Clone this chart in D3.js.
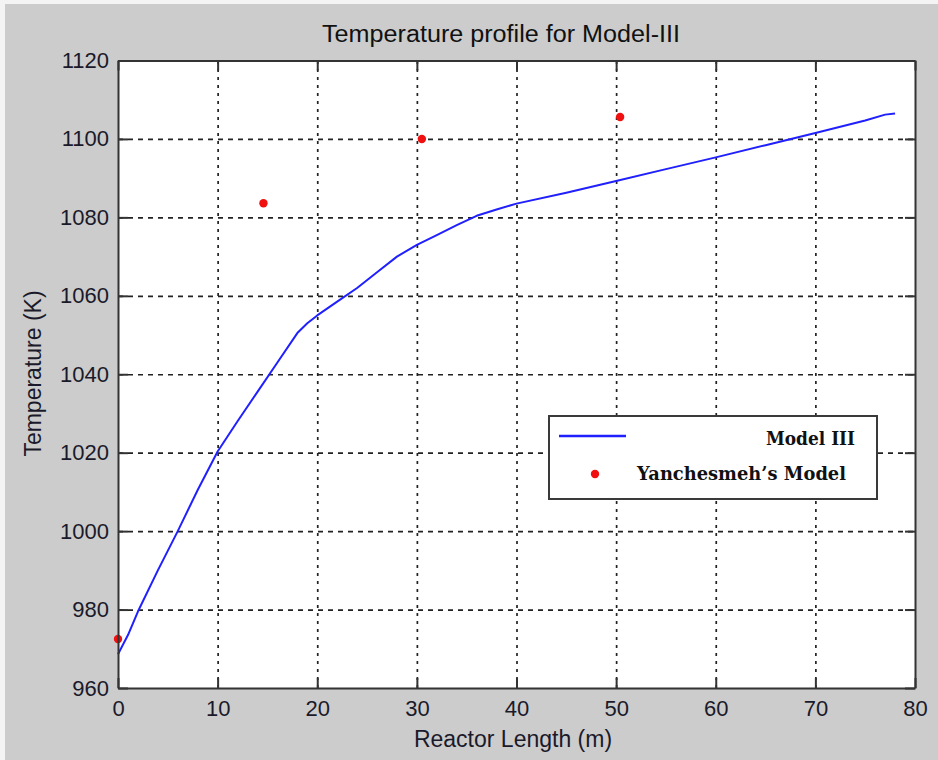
<!DOCTYPE html>
<html>
<head>
<meta charset="utf-8">
<script src="https://cdn.jsdelivr.net/npm/d3@7"></script>
<style>
  html, body { margin: 0; padding: 0; background: #ffffff; }
  svg { display: block; }
  .tick text { font-family: "Liberation Sans", Arial, sans-serif; font-size: 22px; fill: #1a1a2a; }
</style>
</head>
<body>
<svg id="chart" width="938" height="760"></svg>
<script>
// Model III temperature along the reactor (m, K)
const modelX = [0, 1, 2, 4, 6, 8, 10, 12, 14, 16, 18, 19, 20, 22, 24, 26, 28, 30, 32, 34, 36, 38, 40, 45, 50, 55, 60, 65, 70, 75, 77, 78];
const modelY = [968.6, 973.5, 979.5, 990, 1000, 1010.5, 1020.3, 1028, 1035.5, 1043, 1050.5, 1053, 1055, 1058.5, 1062, 1066, 1070, 1073, 1075.5, 1078, 1080.4, 1082, 1083.5, 1086.3, 1089.3, 1092.3, 1095.3, 1098.4, 1101.5, 1104.7, 1106.2, 1106.5];

// Yanchesmeh's model reference points
const refX = [0, 14.6, 30.5, 50.4];
const refY = [972.5, 1083.6, 1100, 1105.6];

const xTicks = [0, 10, 20, 30, 40, 50, 60, 70, 80];
const yTicks = [960, 980, 1000, 1020, 1040, 1060, 1080, 1100, 1120];

const titleText = "Temperature profile for Model-III";
const xLabel = "Reactor Length (m)";
const yLabel = "Temperature (K)";
const seriesNames = ["Model III", "Yanchesmeh\u2019s Model"];

const svg = d3.select("#chart");
const W = 938, H = 760;
const plotL = 118, plotR = 915, plotT = 60.5, plotB = 688;

// figure background
svg.append("rect").attr("x", 0).attr("y", 0).attr("width", W).attr("height", H).attr("fill", "#f4f4f4");
svg.append("rect").attr("x", 5).attr("y", 4).attr("width", W - 5).attr("height", H - 4).attr("fill", "#cccccc");

const x = d3.scaleLinear().domain([0, 80]).range([plotL, plotR]);
const y = d3.scaleLinear().domain([960, 1120]).range([plotB, plotT]);

// axes area
svg.append("rect").attr("x", plotL).attr("y", plotT).attr("width", plotR - plotL).attr("height", plotB - plotT).attr("fill", "#ffffff");

// grid lines
const gridX = svg.append("g").attr("transform", `translate(0,${plotB})`)
  .call(d3.axisBottom(x).tickValues(xTicks.slice(1, -1)).tickSize(-(plotB - plotT)).tickFormat(""));
gridX.select(".domain").remove();
gridX.selectAll("line").attr("stroke", "#222").attr("stroke-width", 1.7).attr("stroke-dasharray", "3,5");

const gridY = svg.append("g").attr("transform", `translate(${plotL},0)`)
  .call(d3.axisLeft(y).tickValues(yTicks.slice(1, -1)).tickSize(-(plotR - plotL)).tickFormat(""));
gridY.select(".domain").remove();
gridY.selectAll("line").attr("stroke", "#222").attr("stroke-width", 1.7).attr("stroke-dasharray", "5,5");

// model curve
const line = d3.line().x((d, i) => x(modelX[i])).y(d => y(d));
svg.append("path").datum(modelY).attr("d", line)
  .attr("fill", "none").attr("stroke", "#2020ff").attr("stroke-width", 2).attr("stroke-linejoin", "round");

// reference points
svg.append("g").selectAll("circle").data(refY).join("circle")
  .attr("cx", (d, i) => x(refX[i])).attr("cy", d => y(d)).attr("r", 4.2).attr("fill", "#f01010");

// axes with inward ticks
const tickLen = 10;
const fmt = d3.format("d");
const axB = svg.append("g").attr("transform", `translate(0,${plotB})`)
  .call(d3.axisBottom(x).tickValues(xTicks).tickFormat(fmt).tickSize(-tickLen).tickPadding(12).tickSizeOuter(0));
const axT = svg.append("g").attr("transform", `translate(0,${plotT})`)
  .call(d3.axisTop(x).tickValues(xTicks).tickSize(-tickLen).tickFormat("").tickSizeOuter(0));
const axL = svg.append("g").attr("transform", `translate(${plotL},0)`)
  .call(d3.axisLeft(y).tickValues(yTicks).tickFormat(fmt).tickSize(-tickLen).tickPadding(9).tickSizeOuter(0));
const axR = svg.append("g").attr("transform", `translate(${plotR},0)`)
  .call(d3.axisRight(y).tickValues(yTicks).tickSize(-tickLen).tickFormat("").tickSizeOuter(0));
[axB, axT, axL, axR].forEach(a => {
  a.select(".domain").attr("stroke", "#333333").attr("stroke-width", 2);
  a.selectAll(".tick line").attr("stroke", "#333333").attr("stroke-width", 2);
});
axB.selectAll(".tick text").attr("dy", "0.72em");

// titles
const sans = "'Liberation Sans', Arial, sans-serif";
svg.append("text").attr("x", 501).attr("y", 41.5).attr("text-anchor", "middle")
  .attr("font-family", sans).attr("font-size", 23).attr("fill", "#111")
  .attr("textLength", 358).attr("lengthAdjust", "spacingAndGlyphs").text(titleText);
svg.append("text").attr("x", 513).attr("y", 747).attr("text-anchor", "middle")
  .attr("font-family", sans).attr("font-size", 23).attr("fill", "#1a1a2a").text(xLabel);
svg.append("text").attr("transform", "translate(41,373.5) rotate(-90)").attr("text-anchor", "middle")
  .attr("font-family", sans).attr("font-size", 23).attr("fill", "#1a1a2a").text(yLabel);

// legend
const lg = svg.append("g");
lg.append("rect").attr("x", 549).attr("y", 416).attr("width", 328).attr("height", 83)
  .attr("fill", "#ffffff").attr("stroke", "#3a3a3a").attr("stroke-width", 2);
lg.append("line").attr("x1", 559).attr("x2", 626).attr("y1", 436).attr("y2", 436)
  .attr("stroke", "#2020ff").attr("stroke-width", 2.4);
lg.append("circle").attr("cx", 595).attr("cy", 474).attr("r", 4.2).attr("fill", "#f01010");
const serif = "'DejaVu Serif', 'Liberation Serif', serif";
lg.append("text").attr("x", 855).attr("y", 445).attr("text-anchor", "end")
  .attr("font-family", serif).attr("font-weight", "bold").attr("font-size", 18).attr("fill", "#111")
  .attr("textLength", 89).attr("lengthAdjust", "spacingAndGlyphs").text(seriesNames[0]);
lg.append("text").attr("x", 637).attr("y", 479.5)
  .attr("font-family", serif).attr("font-weight", "bold").attr("font-size", 18).attr("fill", "#111")
  .attr("textLength", 209).attr("lengthAdjust", "spacingAndGlyphs").text(seriesNames[1]);
</script>
</body>
</html>
